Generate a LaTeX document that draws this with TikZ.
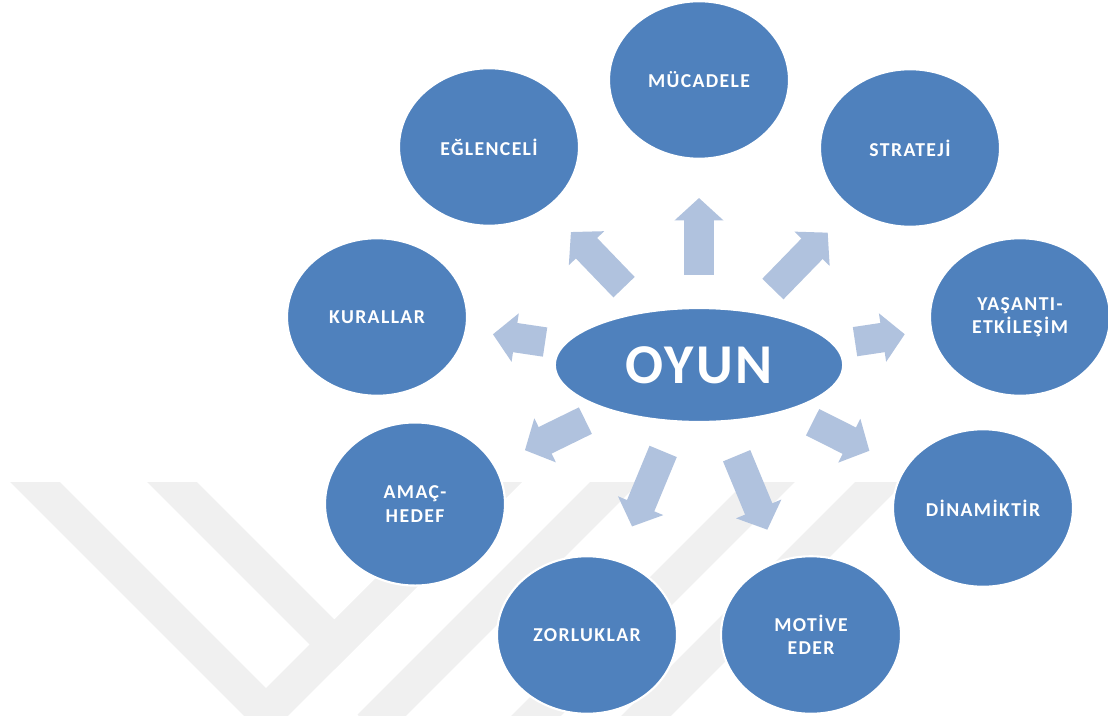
\documentclass[tikz,border=0pt]{standalone}
\usepackage{fontspec}
\setmainfont{Carlito}
\usetikzlibrary{shapes.geometric,arrows.meta,calc}
\definecolor{balonmavi}{HTML}{4F81BD}
\definecolor{okmavi}{HTML}{B0C2DE}
\definecolor{filigran}{HTML}{F0F0F0}
\tikzset{
  balon/.style={ellipse, fill=balonmavi, draw=white, line width=1.5pt,
    minimum width=128pt, minimum height=112pt, inner sep=0pt, text=white,
    align=center, font=\fontsize{14}{16.5}\selectfont\bfseries\addfontfeatures{LetterSpace=7}},
  okblok/.style={draw=okmavi, line width=21pt, -{Triangle[length=16pt,width=34pt]}},
  serit/.style={draw=filigran, line width=25pt}
}
\begin{document}
\begin{tikzpicture}[x=0.025cm,y=-0.025cm]
\useasboundingbox (0,0) rectangle (1108,715);
% soluk filigran
\begin{scope}
\clip (0,482) rectangle (1108,715);
\draw[serit] (15,462) -- (266,713) -- (527,452);
\draw[serit] (152,462) -- (334.5,644.5) -- (527,452);
\draw[serit] (370,727) -- (640,457);
\draw[serit] (520,732) -- (790,462);
\draw[serit] (630,732) -- (900,462);
\end{scope}
\node[balon, minimum width=205pt, minimum height=81pt,
  font=\fontsize{40}{43}\selectfont\bfseries\addfontfeatures{LetterSpace=5}] (oyun) at (699,365) {OYUN};
\node[balon] (mucadele) at (699,80) {MÜCADELE};
\node[balon] (strateji) at (910,148) {STRATEJİ};
\node[balon] (yasanti) at (1020,317) {YAŞANTI-\\ETKİLEŞİM};
\node[balon] (dinamik) at (983,508) {DİNAMİKTİR};
\node[balon] (motive) at (811,635) {MOTİVE\\EDER};
\node[balon] (zorluk) at (587,635) {ZORLUKLAR};
\node[balon, minimum height=116pt] (amac) at (415,504) {AMAÇ-\\HEDEF};
\node[balon] (kural) at (377,317) {KURALLAR};
\node[balon] (eglence) at (489,147) {EĞLENCELİ};
\foreach \hedef/\bas/\son in {mucadele/0.316/0.586, strateji/0.35/0.61,
    yasanti/0.486/0.641, dinamik/0.40/0.60, motive/0.336/0.61,
    zorluk/0.32/0.598, amac/0.40/0.613, kural/0.478/0.64, eglence/0.357/0.61}
  \draw[okblok] ($(oyun)!\bas!(\hedef)$) -- ($(oyun)!\son!(\hedef)$);
\end{tikzpicture}
\end{document}
